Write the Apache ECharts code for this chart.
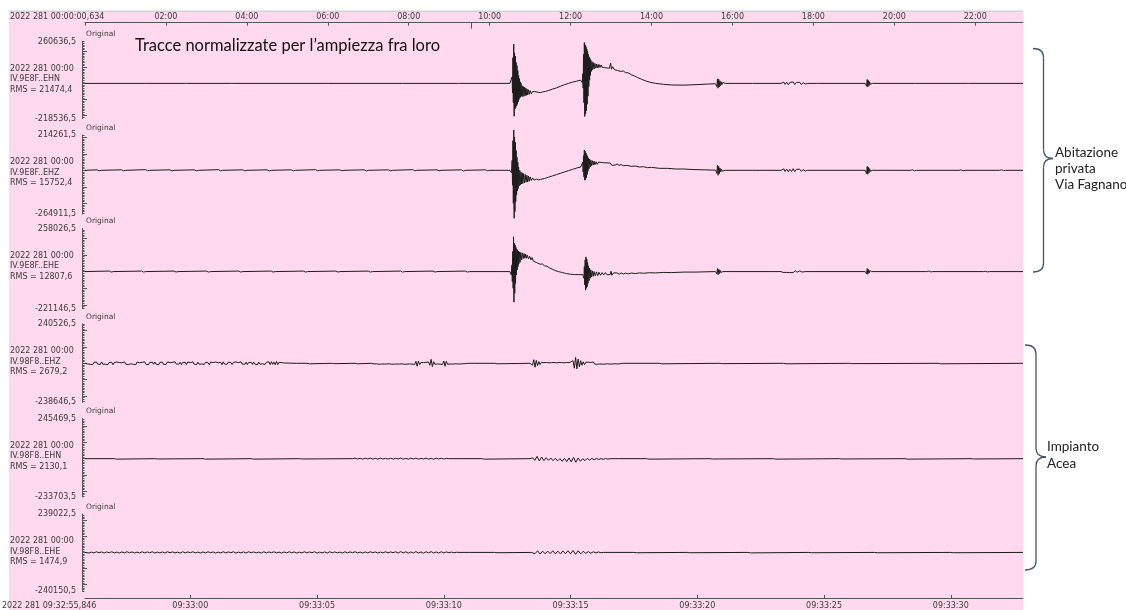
<!DOCTYPE html>
<html><head><meta charset="utf-8">
<script src="https://cdn.jsdelivr.net/npm/echarts@6/dist/echarts.min.js"></script>
<style>html,body{margin:0;padding:0;background:#fff}#c{width:1126px;height:610px}</style>
</head><body><div id="c"></div>
<script>
// ---- axis ticks ----
const topTicks = [0,2,4,6,8,10,12,14,16,18,20,22];             // hours after 2022 281 00:00:00,634
const topTickLabels = ["","02:00","04:00","06:00","08:00","10:00","12:00","14:00","16:00","18:00","20:00","22:00"];
const bottomTicks = [5,10,15,20,25,30,35];                      // seconds after 09:32:55
const bottomTickLabels = ["09:33:00","09:33:05","09:33:10","09:33:15","09:33:20","09:33:25","09:33:30"];
const topStartLabel = "2022 281 00:00:00,634";
const bottomStartLabel = "2022 281 09:32:55,846";
const topRange = [0, 23.18];
const bottomRange = [0.846, 37.85];
const windowMarker = [9.549];

// ---- channels ----
const dateLabel = "2022 281 00:00";
const channels = ["IV.9E8F..EHN","IV.9E8F..EHZ","IV.9E8F..EHE","IV.98F8..EHZ","IV.98F8..EHN","IV.98F8..EHE"];
const rmsLabels = ["RMS = 21474,4","RMS = 15752,4","RMS = 12807,6","RMS = 2679,2","RMS = 2130,1","RMS = 1474,9"];
const yMax = [260636.5, 214261.5, 258026.5, 240526.5, 245469.5, 239022.5];
const yMin = [-218536.5, -264911.5, -221146.5, -238646.5, -233703.5, -240150.5];
const yMaxLabels = ["260636,5","214261,5","258026,5","240526,5","245469,5","239022,5"];
const yMinLabels = ["-218536,5","-264911,5","-221146,5","-238646,5","-233703,5","-240150,5"];

// ---- traces of the day-long records: [hour, counts/1000] ----
const traceEHN_9E8F = [[0,0],[1.5,0],[1.52,2],[1.54,-2],[1.56,0],[2.45,0],[2.47,3],[2.49,-3],[2.51,0],[3.6,0],[3.62,2],[3.64,-2],[3.66,0],[5.95,0],[5.97,3],[5.99,-2],[6.01,0],[7.85,0],[7.87,2],[7.89,-2],[7.91,0],[9.2,0],[9.22,2],[9.24,-2],[9.26,0],[10.5,0],
[10.52,6],[10.54,-10],[10.555,40],[10.565,-60],[10.575,160],[10.585,-120],[10.595,244],[10.605,-205],[10.615,190],[10.625,-160],[10.635,170],[10.645,-150],[10.655,130],[10.665,-140],[10.675,110],[10.685,-130],[10.695,80],[10.705,-115],[10.715,50],[10.725,-100],[10.735,30],[10.745,-90],[10.755,10],[10.765,-85],[10.775,0],[10.79,-80],[10.805,-15],[10.82,-82],[10.835,-20],[10.85,-80],[10.865,-25],[10.88,-76],[10.895,-30],[10.91,-74],[10.925,-35],[10.94,-72],[10.96,-40],[10.98,-68],[11.0,-45],[11.03,-65],[11.06,-50],[11.09,-62],[11.12,-52],[11.16,-60],[11.2,-55],[11.25,-58],[11.3,-54],[11.38,-50],[11.46,-44],[11.55,-36],[11.65,-28],[11.75,-18],[11.85,-8],[11.95,0],[12.05,8],[12.15,14],[12.25,20],
[12.28,22],[12.29,5],[12.3,60],[12.31,-30],[12.32,180],[12.33,-120],[12.34,254],[12.35,-206],[12.36,240],[12.37,-190],[12.38,230],[12.39,-170],[12.4,215],[12.41,-130],[12.42,200],[12.43,-80],[12.44,180],[12.45,-20],[12.46,165],[12.47,20],[12.48,155],[12.49,50],[12.5,145],[12.515,75],[12.53,135],[12.545,85],[12.56,130],[12.58,90],[12.6,125],[12.62,95],[12.64,120],[12.66,96],[12.68,118],[12.7,98],[12.72,116],[12.74,100],[12.76,114],[12.78,100],[12.81,112],[12.84,98],[12.87,110],[12.9,96],[12.93,108],[12.96,94],[12.99,126],[13.01,88],[13.04,104],[13.08,86],[13.12,96],[13.16,80],[13.2,88],[13.25,74],[13.3,78],[13.36,66],[13.42,66],[13.5,54],[13.58,46],[13.66,36],[13.75,26],[13.85,16],[13.95,8],[14.1,0],[14.3,-6],[14.5,-10],[14.8,-11],[15.1,-8],[15.4,-4],[15.58,-2],
[15.6,4],[15.615,-20],[15.63,28],[15.645,-30],[15.66,26],[15.675,-22],[15.69,16],[15.705,-14],[15.72,10],[15.74,-8],[15.76,6],[15.78,-4],[15.82,0],
[16.5,0],[16.52,3],[16.54,-3],[16.56,0],[17.2,0],[17.22,5],[17.24,-5],[17.27,8],[17.3,-6],[17.34,7],[17.38,-8],[17.42,6],[17.46,-6],[17.5,9],[17.54,-7],[17.58,6],[17.62,-5],[17.66,7],[17.7,-6],[17.75,4],[17.8,-4],[17.85,0],[18.1,0],[18.12,3],[18.14,-3],[18.16,0],
[19.28,0],[19.3,8],[19.315,-18],[19.33,24],[19.345,-22],[19.36,18],[19.375,-14],[19.39,10],[19.41,-6],[19.43,4],[19.46,0],
[20.5,0],[20.52,2],[20.54,-2],[20.56,0],[21.8,0],[21.82,2],[21.84,-2],[21.86,0],[23.18,0]];

const traceEHZ_9E8F = [[0,0],[0.3,3],[0.35,-3],[0.4,0],[0.9,3],[0.95,-3],[1.0,0],[1.5,4],[1.55,-3],[1.6,0],[2.1,3],[2.15,-4],[2.2,0],[2.7,3],[2.75,-3],[2.8,0],[3.3,4],[3.35,-3],[3.4,0],[3.9,3],[3.95,-3],[4.0,0],[4.5,3],[4.55,-4],[4.6,0],[5.1,3],[5.15,-3],[5.2,0],[5.7,4],[5.75,-3],[5.8,0],[6.3,3],[6.35,-3],[6.4,0],[6.9,3],[6.95,-4],[7.0,0],[7.5,3],[7.55,-3],[7.6,0],[8.1,4],[8.15,-3],[8.2,0],[8.7,3],[8.75,-3],[8.8,0],[9.3,3],[9.35,-4],[9.4,0],[9.9,3],[9.95,-3],[10.0,0],[10.5,0],
[10.52,5],[10.54,-15],[10.555,60],[10.565,-90],[10.575,180],[10.585,-200],[10.595,245],[10.605,-291],[10.615,200],[10.625,-250],[10.635,170],[10.645,-190],[10.655,120],[10.665,-150],[10.675,80],[10.685,-125],[10.695,50],[10.705,-110],[10.715,20],[10.73,-95],[10.745,0],[10.76,-88],[10.775,-10],[10.79,-82],[10.805,-15],[10.82,-80],[10.84,-20],[10.86,-76],[10.88,-25],[10.9,-72],[10.92,-30],[10.94,-70],[10.96,-35],[10.98,-66],[11.0,-40],[11.03,-62],[11.06,-46],[11.1,-60],[11.15,-52],[11.2,-58],[11.26,-55],[11.35,-50],[11.45,-42],[11.55,-34],[11.65,-26],[11.75,-18],[11.85,-10],[11.95,-2],[12.05,6],[12.15,14],[12.25,20],
[12.28,22],[12.29,10],[12.3,50],[12.31,-10],[12.32,90],[12.33,-40],[12.34,123],[12.35,-60],[12.36,115],[12.37,-55],[12.38,105],[12.39,-45],[12.4,95],[12.41,-25],[12.42,85],[12.43,-5],[12.44,75],[12.455,10],[12.47,68],[12.485,20],[12.5,62],[12.52,28],[12.54,58],[12.56,32],[12.58,56],[12.6,34],[12.63,52],[12.66,36],[12.69,50],[12.72,38],[12.75,48],[12.78,38],[12.82,46],[12.86,38],[12.9,45],[12.94,36],[12.98,44],[13.0,54],[13.02,30],[13.06,40],[13.1,32],[13.15,38],[13.2,30],[13.25,35],[13.3,28],[13.4,30],[13.5,24],[13.6,26],[13.7,20],[13.8,22],[13.9,16],[14.0,18],[14.2,12],[14.4,12],[14.6,8],[14.8,8],[15.0,5],[15.3,3],[15.58,1],
[15.6,4],[15.615,-18],[15.63,30],[15.645,-30],[15.66,24],[15.675,-20],[15.69,14],[15.71,-10],[15.73,8],[15.75,-5],[15.78,3],[15.82,0],
[16.5,0],[16.52,3],[16.54,-3],[16.56,0],[17.2,0],[17.22,5],[17.24,-6],[17.27,9],[17.3,-7],[17.34,8],[17.38,-9],[17.42,6],[17.46,-7],[17.5,10],[17.54,-8],[17.58,6],[17.62,-6],[17.66,7],[17.7,-6],[17.75,4],[17.8,-4],[17.85,0],
[19.28,0],[19.3,8],[19.315,-20],[19.33,24],[19.345,-24],[19.36,18],[19.375,-14],[19.39,10],[19.41,-6],[19.43,4],[19.46,0],
[20.4,0],[20.45,3],[20.5,-3],[20.55,0],[21.6,0],[21.65,3],[21.7,-3],[21.75,0],[22.6,0],[22.65,3],[22.7,-2],[22.75,0],[23.18,0]];

const traceEHE_9E8F = [[0,0],[0.6,3],[0.65,-3],[0.7,0],[1.4,3],[1.45,-3],[1.5,0],[2.2,3],[2.25,-3],[2.3,0],[3.0,3],[3.05,-3],[3.1,0],[3.8,3],[3.85,-3],[3.9,0],[4.6,3],[4.65,-3],[4.7,0],[5.4,3],[5.45,-3],[5.5,0],[6.2,3],[6.25,-3],[6.3,0],[7.0,3],[7.05,-3],[7.1,0],[7.8,3],[7.85,-3],[7.9,0],[8.6,3],[8.65,-3],[8.7,0],[9.4,3],[9.45,-3],[9.5,0],[10.5,0],
[10.52,5],[10.535,-20],[10.55,40],[10.56,-60],[10.57,120],[10.58,-100],[10.59,208],[10.6,-183],[10.61,170],[10.62,-130],[10.63,160],[10.64,-70],[10.65,145],[10.66,-20],[10.67,135],[10.68,10],[10.69,128],[10.7,30],[10.71,122],[10.72,45],[10.735,118],[10.75,55],[10.77,115],[10.79,70],[10.81,112],[10.83,78],[10.85,108],[10.87,80],[10.89,104],[10.91,80],[10.93,98],[10.96,76],[10.99,92],[11.02,70],[11.05,84],[11.08,62],[11.12,72],[11.16,54],[11.2,60],[11.25,44],[11.3,46],[11.36,34],[11.42,32],[11.48,22],[11.55,14],[11.62,6],[11.7,0],[11.8,-6],[11.9,-12],[12.0,-16],[12.1,-18],[12.2,-18],[12.3,-18],
[12.32,-10],[12.33,-40],[12.34,30],[12.35,-80],[12.36,70],[12.37,-111],[12.38,88],[12.39,-100],[12.4,75],[12.41,-90],[12.42,55],[12.43,-70],[12.44,35],[12.455,-55],[12.47,20],[12.485,-40],[12.5,10],[12.52,-32],[12.54,4],[12.56,-28],[12.58,0],[12.61,-26],[12.64,-2],[12.67,-24],[12.7,-4],[12.74,-22],[12.78,-6],[12.82,-20],[12.86,-6],[12.9,-19],[12.94,-8],[12.98,-18],[13.0,2],[13.02,-22],[13.06,-8],[13.1,-18],[13.15,-8],[13.2,-16],[13.25,-8],[13.3,-15],[13.36,-9],[13.42,-14],[13.5,-9],[13.6,-12],[13.7,-8],[13.8,-10],[13.95,-7],[14.1,-8],[14.3,-5],[14.5,-6],[14.8,-3],[15.1,-3],[15.4,-1],[15.58,0],
[15.6,3],[15.615,-14],[15.63,18],[15.645,-18],[15.66,14],[15.675,-12],[15.69,9],[15.71,-6],[15.73,4],[15.76,0],
[17.2,0],[17.22,4],[17.25,-5],[17.29,6],[17.33,-5],[17.37,6],[17.41,-6],[17.45,5],[17.5,-6],[17.55,5],[17.6,-4],[17.66,4],[17.72,-3],[17.8,0],
[19.28,0],[19.3,6],[19.315,-14],[19.33,18],[19.345,-16],[19.36,12],[19.375,-9],[19.39,6],[19.41,-4],[19.44,0],
[20.8,0],[20.85,3],[20.9,-2],[20.95,0],[22.2,0],[22.25,2],[22.3,-2],[22.35,0],[23.18,0]];

// ---- 37 s records: sampled pieces {t0 [s], dt [s], values [counts/1000]} and isolated points ----
const ehz98F8_noise1 = [5,-4,7,-6,3,-8,6,-3,8,-5,4,-7,9,-6,2,-5,7,-8,5,-3,6,-9,4,-6,8,-4,5,-7,3,-6,9,-5,6,-8,4,-3,7,-6,5,-9,8,-4,3,-7,6,-5,9,-6,4,-8,5,-3,7,-6,8,-5,3,-9,6,-4,7,-7,5,-6,8,-3,4,-8,6,-5,9,-4,3,-6,7,-8,5,-5,6,-7,8,-4,4,-6,9,-5,3,-8,7,-6,5,-4,8,-7,6,-3,4,-9,7,-5,5,-6,8,-4,3,-7,6,-8,9,-5,4,-6,7,-3,5,-8,6,-6,8,-4,4,-7,9,-5,3,-6,7,-8,5,-4,6,-7,8,-5,4,-9,7,-6,5,-3,8,-7,6,-5,9,-8,10,-6,7,-9,12,-8,6,-5,4,-3,2,0];
const ehz98F8_noise2 = [3,-4,5,-3,4,-6,5,-4,3,-5,6,-4,5,-3,4,-6,5,-5,3,-4,6,-5,4,-3,5,-6,4,-5,6,-4,3,-5,5,-7,12,-18,14,-8,5,-6,4,-5,6,-4,8,-12,24,-20,10,-6,5,-4,6,-5,4,-7,14,-18,12,-6,5,-4,3,-5,4,-3,5,-4,3,-4,2,-3,3,-2,2,0];
const ehz98F8_burst1 = [6,-12,22,-24,18,-14,10,-8,6,-5,4,-3,5,-4,3,-5,4,-3,5,-4,3,-4,5,-3,4,-5,3,-4,5,-3,4];
const ehz98F8_burst2 = [16,-30,36,-34,26,-22,16,-12,9,-8,6,-5,7,-4,5,-6,8,-5,4,-6,5,-4,6,-5,4,-5,6,-3,4,-5,3,-4,5,-3,3,-4,2,-3,2,0];
const ehz98F8_quiet = [[9.2,0],[9.6,0],[9.65,3],[9.7,-3],[9.75,0],[10.6,0],[10.65,3],[10.7,-2],[10.75,0],[11.5,0],[11.55,3],[11.6,-3],[11.65,0],[12.15,0],
  [16.2,0],[17.0,0],[17.05,3],[17.1,-3],[17.15,0],[18.4,0],
  [22.1,0],[23.5,0],[23.55,3],[23.6,-3],[23.65,0],[25.9,0],[25.95,3],[26,-2],[26.05,0],[28.4,0],[28.45,4],[28.5,-3],[28.55,0],[31,0],[31.05,3],[31.1,-2],[31.15,0],[34.5,0],[34.55,3],[34.6,-3],[34.65,0],[37.85,0]];

const ehn98F8_noise = [3,-2,2,-3,3,-2,3,-3,2,-3,3,-2,2,-3,3,-3,2,-2,3,-3,2,-3,3,-2,3,-3,2,-2,3,-3,2,-3,3,-2,2,-2,1,0];
const ehn98F8_burst = [5,-10,14,-14,10,-12,6,-10,4,-12,2,-14,0,-16,2,-18,4,-20,8,-22,4,-16,0,-12,2,-9,2,-7,2,-5,0,-4,1,-3,0];
const ehn98F8_quiet = [[0.85,0],[2.0,0],[2.05,3],[2.1,-3],[2.15,0],[3.6,0],[3.65,3],[3.7,-2],[3.75,0],[5.5,0],[5.55,3],[5.6,-3],[5.65,0],[7.4,0],[7.45,3],[7.5,-3],[7.55,0],[9.3,0],[9.35,3],[9.4,-2],[9.45,0],[11.4,0],
  [15.4,0],[16.5,0],[16.55,3],[16.6,-3],[16.65,0],[18.4,0],
  [21.9,0],[23.0,0],[23.05,3],[23.1,-3],[23.15,0],[25.5,0],[25.55,3],[25.6,-2],[25.65,0],[28.0,0],[28.05,3],[28.1,-3],[28.15,0],[30.6,0],[30.65,3],[30.7,-2],[30.75,0],[33.2,0],[33.25,3],[33.3,-3],[33.35,0],[35.8,0],[35.85,2],[35.9,-2],[35.95,0],[37.85,0]];

const ehe98F8_noise1 = [3,-4,2,-3,4,-2,3,-4,3,-2,4,-3,2,-4,3,-3,4,-2,3,-4,2,-3,4,-3,3,-2,4,-4,2,-3,3,-4,4,-2,3,-3,2,-4,4,-3,3,-2,4,-3,2,-4,3,-3,4,-2,3,-4,2,-3,4,-3,3,-2,4,-4,2,-3,3,-4,4,-2,3,-3,2,-4,4,-3,3,-2,4,-3,2,-4,3,-3,4,-2,3,-4,2,-3,4,-3,3,-2,4,-4,2,-3,3,-4,4,-2,3,-3,2,-4,4,-3,3,-2,4,-3,2,-4,3,-3,4,-2,3,-4,2,-3,4,-3,3,-2,4,-4,5,-3,4,-5,3,-4,5,-4,3,-5,4,-3,5,-4,3,-4,4,-3,3,-2,2,-2,1,0];
const ehe98F8_burst = [4,-8,10,-10,8,-9,8,-8,10,-9,8,-10,9,-8,10,-9,12,-12,10,-9,7,-6,5,-5,4,-3,3,-2,0];
const ehe98F8_quiet = [[0.85,0],[16.0,0],[17.0,0],[17.05,2],[17.1,-2],[17.15,0],[18.45,0],
  [21.4,0],[22.5,0],[22.55,3],[22.6,-2],[22.65,0],[24.6,0],[24.65,2],[24.7,-2],[24.75,0],[27.0,0],[27.05,3],[27.1,-3],[27.15,0],[29.4,0],[29.45,2],[29.5,-2],[29.55,0],[32.0,0],[32.05,3],[32.1,-2],[32.15,0],[35.0,0],[35.05,2],[35.1,-2],[35.15,0],[37.85,0]];

function piece(t0, dt, vals) { return vals.map((v, k) => [Math.round((t0 + k * dt) * 1000) / 1000, v]); }
function byTime(a, b) { return a[0] - b[0]; }

const traceEHZ_98F8 = [[0.85,0]].concat(piece(0.9, 0.05, ehz98F8_noise1), piece(12.2, 0.05, ehz98F8_noise2),
  piece(18.45, 0.05, ehz98F8_burst1), piece(20.1, 0.05, ehz98F8_burst2), ehz98F8_quiet).sort(byTime);
const traceEHN_98F8 = [].concat(piece(11.5, 0.1, ehn98F8_noise), piece(18.5, 0.09, ehn98F8_burst), ehn98F8_quiet).sort(byTime);
const traceEHE_98F8 = [].concat(piece(0.9, 0.1, ehe98F8_noise1), piece(18.5, 0.1, ehe98F8_burst), ehe98F8_quiet).sort(byTime);

const traces = [traceEHN_9E8F, traceEHZ_9E8F, traceEHE_9E8F, traceEHZ_98F8, traceEHN_98F8, traceEHE_98F8];

// ---- layout ----
const gridTops = [41.5, 135, 228.5, 324, 418.5, 514];
const gridHeights = [77, 79, 80, 78.3, 78.4, 77.7];
const GL = 85, GR = 103;
const TXT = '#3a3a3a', AX = '#555';
const FONT = 'DejaVu Sans';

const chart = echarts.init(document.getElementById('c'), null, {renderer: 'canvas'});

const grids = [], xAxes = [], yAxes = [], series = [], graphics = [];

graphics.push({type:'rect', z:-100, shape:{x:9, y:12, width:1014, height:598}, style:{fill:'#ffd9ee'}});
graphics.push({type:'rect', z:-99, shape:{x:9, y:10.5, width:1014, height:1.5}, style:{fill:'#d2d2d2'}});

for (let i = 0; i < 6; i++) {
  grids.push({left: GL, right: GR, top: gridTops[i], height: gridHeights[i], containLabel: false});
  const isTop = i < 3;
  const xa = {
    type: 'value', gridIndex: i,
    min: isTop ? topRange[0] : bottomRange[0],
    max: isTop ? topRange[1] : bottomRange[1],
    show: false, splitLine: {show: false}, axisLine: {onZero: false}
  };
  if (i === 0) {
    Object.assign(xa, {
      show: true, position: 'top', offset: 18.8,
      axisLine: {show: true, onZero: false, lineStyle: {color: AX, width: 1}},
      axisTick: {show: true, inside: true, length: 3, customValues: topTicks, lineStyle: {color: AX}},
      axisLabel: {show: true, customValues: topTicks.slice(1), margin: 2, fontSize: 8, fontFamily: FONT, color: TXT,
        formatter: v => topTickLabels[topTicks.indexOf(v)] || ''}
    });
  }
  if (i === 5) {
    Object.assign(xa, {
      show: true, position: 'bottom', offset: 7,
      axisLine: {show: true, onZero: false, lineStyle: {color: AX, width: 1}},
      axisTick: {show: true, inside: true, length: 3, customValues: bottomTicks, lineStyle: {color: AX}},
      axisLabel: {show: true, customValues: bottomTicks, margin: 4, fontSize: 8, fontFamily: FONT, color: TXT,
        formatter: v => bottomTickLabels[bottomTicks.indexOf(v)] || ''}
    });
  }
  xAxes.push(xa);

  const mn = yMin[i] / 1000, mx = yMax[i] / 1000;
  const minorT = [], majorT = [];
  for (let v = Math.ceil(mn / 10) * 10; v <= mx; v += 10) minorT.push(v);
  for (let v = Math.ceil(mn / 100) * 100; v <= mx; v += 100) majorT.push(v);
  yAxes.push({
    type: 'value', gridIndex: i, min: mn, max: mx, offset: 3, position: 'left',
    axisLine: {show: true, onZero: false, lineStyle: {color: AX, width: 1}},
    axisTick: {show: true, inside: true, length: 2.5, customValues: minorT, lineStyle: {color: AX}},
    axisLabel: {show: true, customValues: [mn, mx], margin: 6, fontSize: 8, fontFamily: FONT, color: TXT,
      formatter: v => v > 0 ? yMaxLabels[i] : yMinLabels[i]},
    splitLine: {show: false}
  });
  yAxes.push({
    type: 'value', gridIndex: i, min: mn, max: mx, offset: 3, position: 'left',
    axisLine: {show: false, onZero: false},
    axisTick: {show: true, inside: true, length: 5, customValues: majorT, lineStyle: {color: AX}},
    axisLabel: {show: false}, splitLine: {show: false}
  });

  series.push({
    type: 'line', xAxisIndex: i, yAxisIndex: 2 * i, data: traces[i],
    showSymbol: false, symbol: 'none', clip: false,
    lineStyle: {color: '#1c1c1c', width: 1}, silent: true, animation: false
  });

  const t = gridTops[i];
  graphics.push({type:'text', x: 86, y: t - 7, style:{text:'Original', font:'7.5px ' + FONT, fill: TXT, textVerticalAlign:'middle'}});
  graphics.push({type:'text', x: 10, y: t + 27, style:{text: dateLabel, font:'8px ' + FONT, fill: TXT, textVerticalAlign:'middle'}});
  graphics.push({type:'text', x: 10, y: t + 37.5, style:{text: channels[i], font:'8px ' + FONT, fill: TXT, textVerticalAlign:'middle'}});
  graphics.push({type:'text', x: 10, y: t + 48, style:{text: rmsLabels[i], font:'8px ' + FONT, fill: TXT, textVerticalAlign:'middle'}});
}

// extra axis: marker of the zoomed window on the top time axis
xAxes.push({
  type: 'value', gridIndex: 0, min: topRange[0], max: topRange[1], position: 'top', offset: 18.8,
  axisLine: {show: false, onZero: false}, axisLabel: {show: false}, splitLine: {show: false},
  axisTick: {show: true, inside: true, length: 6, customValues: windowMarker, lineStyle: {color: AX, width: 1}}
});

graphics.push({type:'text', x: 10, y: 17, style:{text: topStartLabel, font:'8px ' + FONT, fill: TXT, textVerticalAlign:'middle'}});
graphics.push({type:'text', x: 2, y: 606, style:{text: bottomStartLabel, font:'8px ' + FONT, fill: TXT, textVerticalAlign:'middle'}});

graphics.push({type:'text', x: 135, y: 46, style:{text: 'Tracce normalizzate per l\u2019ampiezza fra loro', font:'16.5px Lato', fill:'#111', textVerticalAlign:'middle'}});

graphics.push({type:'text', x: 1055, y: 145, style:{text: 'Abitazione\nprivata\nVia Fagnano', font:'13.5px Lato', fill:'#222', lineHeight: 16, textVerticalAlign:'top'}});
graphics.push({type:'text', x: 1047, y: 438, style:{text: 'Impianto\nAcea', font:'13.5px Lato', fill:'#222', lineHeight: 17, textVerticalAlign:'top'}});

function brace(x0, xv, xt, y0, ym, y1) {
  const r = 9, st = {stroke:'#44546a', fill:null, lineWidth:1.3};
  return [
    {type:'bezierCurve', shape:{x1:x0, y1:y0, cpx1:xv, cpy1:y0, x2:xv, y2:y0 + r}, style:st},
    {type:'line', shape:{x1:xv, y1:y0 + r, x2:xv, y2:ym - r}, style:st},
    {type:'bezierCurve', shape:{x1:xv, y1:ym - r, cpx1:xv, cpy1:ym, x2:xt, y2:ym}, style:st},
    {type:'bezierCurve', shape:{x1:xt, y1:ym, cpx1:xv, cpy1:ym, x2:xv, y2:ym + r}, style:st},
    {type:'line', shape:{x1:xv, y1:ym + r, x2:xv, y2:y1 - r}, style:st},
    {type:'bezierCurve', shape:{x1:xv, y1:y1 - r, cpx1:xv, cpy1:y1, x2:x0, y2:y1}, style:st}
  ];
}
graphics.push(...brace(1033, 1043.5, 1053, 48.5, 158.5, 272));
graphics.push(...brace(1025, 1036, 1046, 345, 457, 570));

chart.setOption({
  animation: false,
  backgroundColor: '#ffffff',
  grid: grids, xAxis: xAxes, yAxis: yAxes, series: series,
  graphic: {elements: graphics}
});
</script></body></html>
